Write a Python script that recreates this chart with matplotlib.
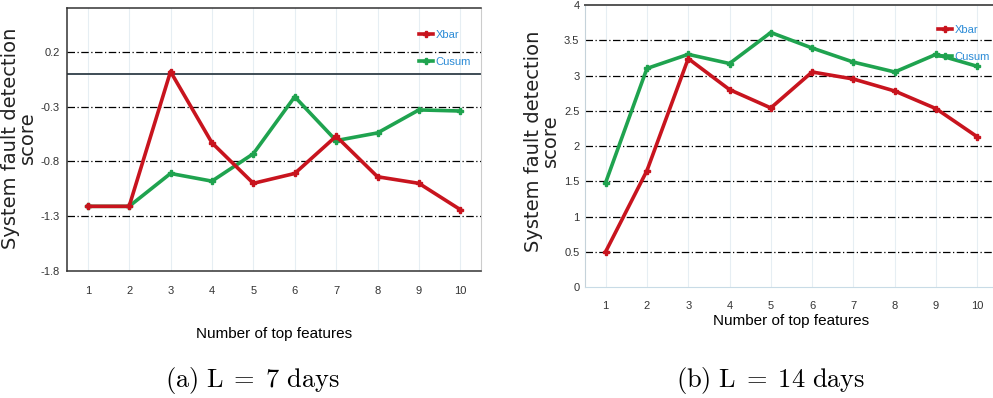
import matplotlib.pyplot as plt

features = [1, 2, 3, 4, 5, 6, 7, 8, 9, 10]

# L = 7 days
xbar_7 = [-1.21, -1.21, 0.02, -0.63, -1.00, -0.91, -0.57, -0.94, -1.00, -1.24]
cusum_7 = [-1.21, -1.21, -0.91, -0.98, -0.73, -0.21, -0.61, -0.54, -0.33, -0.34]
yticks_7 = [0.2, -0.3, -0.8, -1.3, -1.8]

# L = 14 days
xbar_14 = [0.50, 1.65, 3.24, 2.80, 2.54, 3.05, 2.95, 2.78, 2.53, 2.13]
cusum_14 = [1.48, 3.10, 3.30, 3.17, 3.61, 3.39, 3.19, 3.05, 3.30, 3.13]
yticks_14 = [0, 0.5, 1, 1.5, 2, 2.5, 3, 3.5, 4]

RED = '#c8141e'
GREEN = '#1fa34f'
LEG_BLUE = '#2b8bd6'
SMALL = 'Liberation Sans'


def draw_panel(ax, xbar, cusum, yticks, grid_vals, legend_anchor):
    ax.plot(features, xbar, color=RED, lw=2.6, marker='P', ms=4.5,
            label='Xbar', zorder=4)
    ax.plot(features, cusum, color=GREEN, lw=2.6, marker='P', ms=4.5,
            label='Cusum', zorder=3)
    for v in grid_vals:
        ax.axhline(v, color='black', lw=0.9, ls=(0, (6, 2, 1, 2)), zorder=1)
    for x in features:
        ax.axvline(x, color='#e6eef3', lw=0.8, zorder=0)
    ax.set_xlim(0.5, 10.5)
    ax.set_xticks(features)
    ax.set_yticks(yticks)
    ax.set_yticklabels([f'{t:g}' for t in yticks])
    ax.tick_params(length=0, labelsize=8, colors='#333333')
    for lab in ax.get_xticklabels() + ax.get_yticklabels():
        lab.set_family(SMALL)
    ax.legend(loc='upper right', bbox_to_anchor=legend_anchor, frameon=False,
              handlelength=1.3, handletextpad=0.2, labelspacing=1.55,
              prop={'family': SMALL, 'size': 8}, labelcolor=LEG_BLUE)


fig = plt.figure(figsize=(9.93, 3.98), dpi=100)

# left panel
ax1 = fig.add_axes([0.0675, 0.3191, 0.4169, 0.6608])
draw_panel(ax1, xbar_7, cusum_7, yticks_7, [0.2, -0.3, -0.8, -1.3],
           (1.0, 0.955))
ax1.axhline(0, color='#2f3e48', lw=1.3, zorder=2)
ax1.set_ylim(-1.8, 0.6)
ax1.tick_params(axis='x', pad=11)
ax1.tick_params(axis='y', pad=5)
for side in ['top', 'left', 'bottom']:
    ax1.spines[side].set_color('#333333')
    ax1.spines[side].set_linewidth(1.1)
ax1.spines['right'].set_color('#cccccc')
ax1.set_xlabel('Number of top features', family=SMALL, fontsize=11,
               labelpad=22)

# right panel
ax2 = fig.add_axes([0.5891, 0.2789, 0.4159, 0.7085])
draw_panel(ax2, xbar_14, cusum_14, yticks_14, [0.5, 1, 1.5, 2, 2.5, 3, 3.5],
           (1.005, 0.965))
ax2.set_ylim(0, 4)
ax2.tick_params(axis='x', pad=10)
ax2.tick_params(axis='y', pad=4)
ax2.spines['top'].set_color('#555555')
ax2.spines['top'].set_linewidth(1.4)
ax2.spines['left'].set_color('#c5d2da')
ax2.spines['bottom'].set_color('#c8dbe6')
ax2.spines['right'].set_visible(False)
ax2.set_xlabel('Number of top features', family=SMALL, fontsize=11,
               labelpad=2)

ylab = 'System fault detection\nscore'
fig.text(0.019, 0.653, ylab, rotation=90, ha='center', va='center',
         fontsize=14, linespacing=0.85, color='#222222')
fig.text(0.546, 0.646, ylab, rotation=90, ha='center', va='center',
         fontsize=14, linespacing=0.85, color='#222222')

fig.text(0.254, 0.045, r'$\mathrm{(a)\ L\;=\;7\ days}$', ha='center',
         va='center', fontsize=19, math_fontfamily='cm')
fig.text(0.776, 0.045, r'$\mathrm{(b)\ L\;=\;14\ days}$', ha='center',
         va='center', fontsize=19, math_fontfamily='cm')

fig.savefig('out.png', dpi=100)
